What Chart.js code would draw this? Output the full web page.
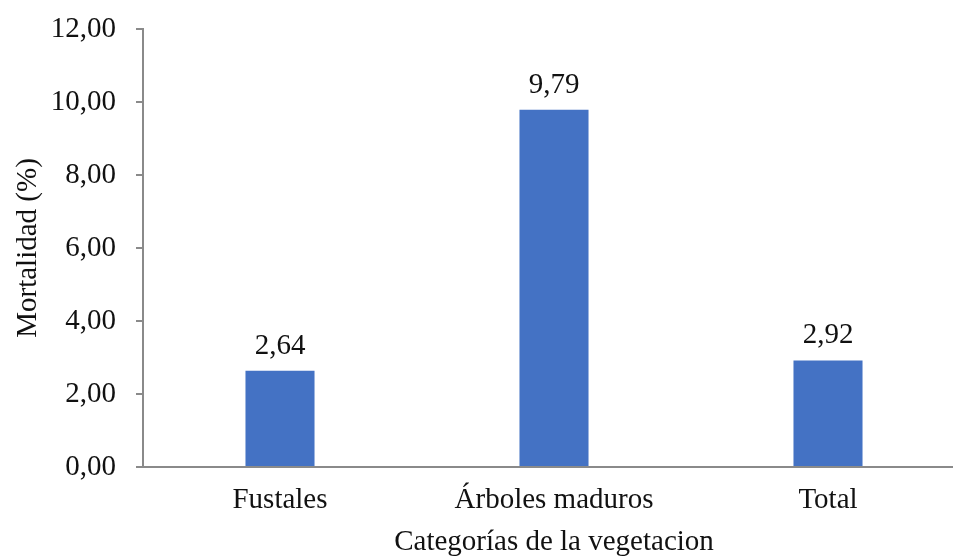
<!DOCTYPE html>
<html>
<head>
<meta charset="utf-8">
<script src="https://cdn.jsdelivr.net/npm/chart.js@4/dist/chart.umd.min.js"></script>
<style>
  html, body { margin: 0; padding: 0; background: #fff; overflow: hidden; }
  #wrap { width: 953px; height: 556px; overflow: hidden; }
  canvas { display: block; }
</style>
</head>
<body>
<div id="wrap"><canvas id="c" width="975" height="560"></canvas></div>
<script>
// Mortality by vegetation category (%)
const categories = ['Fustales', 'Árboles maduros', 'Total'];
const mortality = [2.64, 9.79, 2.92];
const yTicks = [0, 2, 4, 6, 8, 10, 12];

const FONT = "'Liberation Serif', 'Times New Roman', serif";
const AXIS_GREY = '#8a8a8a';
const fmt = v => v.toFixed(2).replace('.', ',');

// Writes each bar's value just above it
const valueLabels = {
  id: 'valueLabels',
  afterDatasetsDraw(chart) {
    const ctx = chart.ctx;
    const meta = chart.getDatasetMeta(0);
    ctx.save();
    ctx.font = '29px ' + FONT;
    ctx.fillStyle = '#111';
    ctx.textAlign = 'center';
    ctx.textBaseline = 'alphabetic';
    meta.data.forEach((bar, i) => {
      ctx.fillText(fmt(mortality[i]), bar.x, bar.y - 17);
    });
    ctx.restore();
  }
};

new Chart(document.getElementById('c'), {
  type: 'bar',
  data: {
    labels: categories,
    datasets: [{
      data: mortality,
      backgroundColor: '#4472C4',
      borderWidth: 0,
      barPercentage: 0.252,
      categoryPercentage: 1
    }]
  },
  options: {
    responsive: false,
    devicePixelRatio: 1,
    animation: false,
    layout: { padding: { top: 29, right: 10, bottom: 0, left: 0 } },
    plugins: {
      legend: { display: false },
      tooltip: { enabled: false }
    },
    scales: {
      x: {
        grid: { display: false, drawTicks: false },
        border: { display: true, color: AXIS_GREY, width: 2 },
        ticks: { color: '#111', font: { family: FONT, size: 29 }, padding: 16, maxRotation: 0 },
        title: {
          display: true,
          text: 'Categorías de la vegetacion',
          color: '#111',
          font: { family: FONT, size: 29 },
          padding: { top: 0, bottom: 0 }
        },
        afterFit(scale) { scale.height = 93; }
      },
      y: {
        min: 0,
        max: 12,
        afterBuildTicks(scale) { scale.ticks = yTicks.map(v => ({ value: v })); },
        grid: { drawOnChartArea: false, drawTicks: true, tickLength: 7, color: AXIS_GREY, lineWidth: 2 },
        border: { display: true, color: AXIS_GREY, width: 2 },
        ticks: {
          color: '#111',
          font: { family: FONT, size: 29 },
          padding: 20,
          callback: v => fmt(v)
        },
        title: {
          display: true,
          text: 'Mortalidad (%)',
          color: '#111',
          font: { family: FONT, size: 29 },
          padding: { top: 11, bottom: 0 }
        },
        afterFit(scale) {
          scale.width = 143;
          scale.paddingTop = 0;
          scale.paddingBottom = 0;
        }
      }
    }
  },
  plugins: [valueLabels]
});
</script>
</body>
</html>
